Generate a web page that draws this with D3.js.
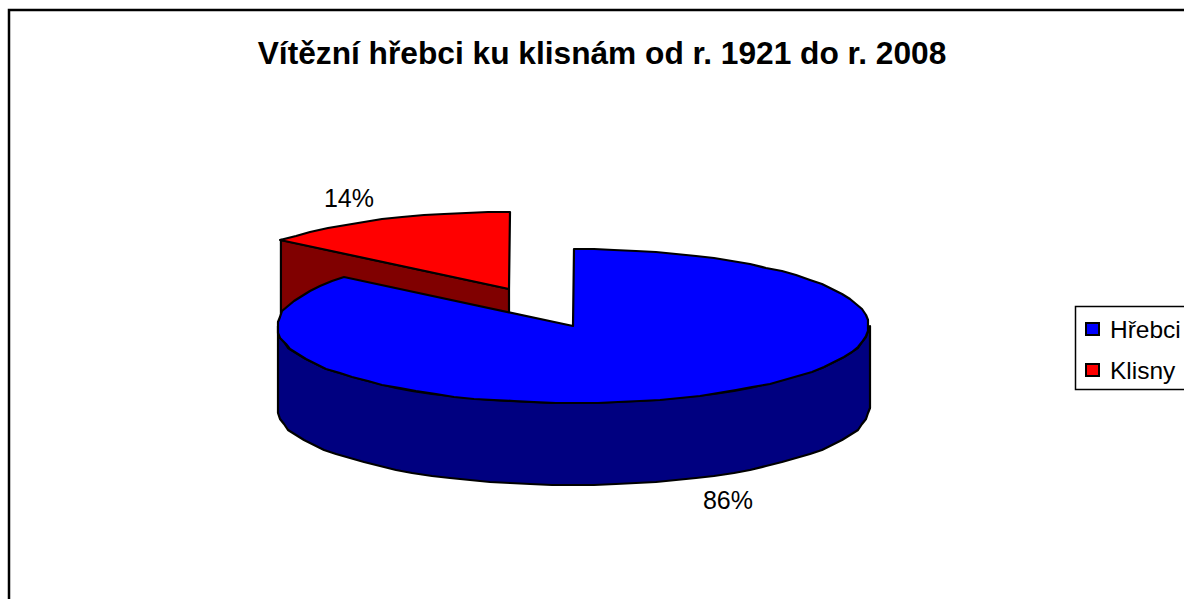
<!DOCTYPE html>
<html><head><meta charset="utf-8">
<script src="https://cdn.jsdelivr.net/npm/d3@7"></script>
<style>html,body{margin:0;background:#fff;overflow:hidden}svg{display:block}text{font-family:"Liberation Sans",Arial,sans-serif;fill:#000}</style>
</head><body><svg id="c" width="1184" height="599"></svg>
<script>
const title = "Vítězní hřebci ku klisnám od r. 1921 do r. 2008";
const categories = ["Hřebci", "Klisny"];
const values = [86, 14];
const valueLabels = ["86%", "14%"];
const topColors = ["#0000ff", "#ff0000"];
const sideColors = ["#000080", "#800000"];

const svg = d3.select("#c");
const W = 1184, H = 599;
const cx = 573, cy = 326, rx = 296, ry = 77, depth = 82;
const explode = [[0, 0], [-64, -37]];
const arcs = d3.pie().sort(null)(values);
const pt = (a, o, dy = 0) => [cx + o[0] + rx * Math.sin(a), cy + o[1] + dy - ry * Math.cos(a)];
const arcPts = (a0, a1, o, dy = 0) => {
  const n = Math.max(2, Math.round((a1 - a0) * 14));
  return d3.range(0, n + 1).map(i => pt(a0 + (a1 - a0) * i / n, o, dy)).map(p => [Math.round(p[0] / 2) * 2, Math.round(p[1])]);
};
const line = d3.line();
const closed = pts => line(pts) + "Z";
const stroke = {stroke: "#000", "stroke-width": 2.2, "stroke-linejoin": "round"};
const draw = (d, fill) => {
  const p = svg.append("path").attr("d", d).attr("fill", fill);
  Object.entries(stroke).forEach(([k, v]) => p.attr(k, v));
};

// frame
svg.append("path").attr("d", `M9,${H}V10H${W}`).attr("fill", "none").attr("stroke", "#000").attr("stroke-width", 2.5);

// title
svg.append("text").attr("x", 602).attr("y", 64).attr("text-anchor", "middle")
  .attr("font-size", 31.7).attr("font-weight", "bold").text(title);

// Klisny: cut face then top
const k = arcs[1], ko = explode[1];
const kc = [cx + ko[0], cy + ko[1]];
draw(closed([pt(k.startAngle, ko), kc, [kc[0], kc[1] + depth], pt(k.startAngle, ko, depth)]), sideColors[1]);
draw(closed([kc, ...arcPts(k.startAngle, k.endAngle, ko)]), topColors[1]);

// Hřebci: outer wall then top
const b = arcs[0], bo = explode[0];
const front0 = Math.PI / 2, front1 = 3 * Math.PI / 2;
draw(closed([...arcPts(front0, front1, bo), ...arcPts(front0, front1, bo, depth).reverse()]), sideColors[0]);
draw(closed([[cx, cy], ...arcPts(b.startAngle, b.endAngle, bo)]), topColors[0]);

// value labels
svg.append("text").attr("x", 728).attr("y", 509).attr("text-anchor", "middle").attr("font-size", 25).text(valueLabels[0]);
svg.append("text").attr("x", 349).attr("y", 207).attr("text-anchor", "middle").attr("font-size", 25).text(valueLabels[1]);

// legend
svg.append("rect").attr("x", 1075.5).attr("y", 306.5).attr("width", 130).attr("height", 83)
  .attr("fill", "#fff").attr("stroke", "#000").attr("stroke-width", 1.5);
const rowY = d3.scalePoint().domain(categories).range([329, 370]);
categories.forEach((c, i) => {
  svg.append("rect").attr("x", 1086).attr("y", rowY(c) - 6).attr("width", 13).attr("height", 12)
    .attr("fill", topColors[i]).attr("stroke", "#000").attr("stroke-width", 2);
  svg.append("text").attr("x", 1110).attr("y", rowY(c) + 9).attr("font-size", 24.5).text(c);
});
</script></body></html>
